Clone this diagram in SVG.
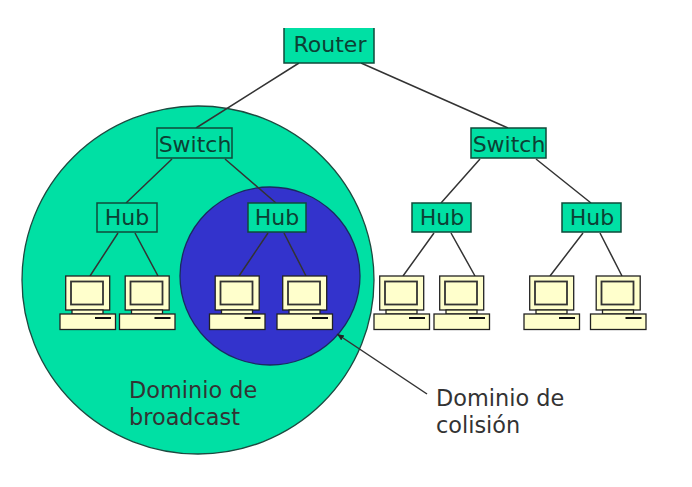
<svg xmlns="http://www.w3.org/2000/svg" width="692" height="487" viewBox="0 0 692 487">
<style>
.box{fill:#00e0a4;stroke:#0f4a3a;stroke-width:1.5}
.lbl{font-family:"DejaVu Sans",sans-serif;font-size:22px;fill:#0d4034;text-anchor:middle}
.txt{font-family:"DejaVu Sans",sans-serif;font-size:22.400px;fill:#333}
.ln{fill:none;stroke:#333;stroke-width:1.5}
.pc{fill:#ffffcc;stroke:#222;stroke-width:1.3}
.scr{fill:#ffffcc;stroke:#333;stroke-width:1.8}
</style>
<defs>
<marker id="ah" markerWidth="8" markerHeight="8" refX="7" refY="3" orient="auto" markerUnits="userSpaceOnUse"><path d="M0 0L7 3L0 6Z" fill="#222"/></marker>
<g id="pcg">
<rect class="pc" x="5.700" y="0" width="44" height="34"/>
<rect class="scr" x="11" y="5.500" width="32" height="23"/>
<rect class="pc" x="12" y="34" width="31" height="4"/>
<rect class="pc" x="0" y="38" width="55.500" height="15.500"/>
<rect x="35" y="41" width="16" height="2" fill="#111"/>
</g>
</defs>
<ellipse id="broadcast" cx="198" cy="280" rx="176" ry="174" fill="#00e0a4" stroke="#1d4a40" stroke-width="1.3"/>
<ellipse id="collision" cx="270" cy="276" rx="90" ry="89" fill="#3333cc" stroke="#1a2a60" stroke-width="1.3"/>
<g id="connectors">
<path class="ln" d="M299 63L196 128M361 63L508 128"/>
<path class="ln" d="M172 159L126 203M225 159L276 203M480 159L441 203M536 159L591 203"/>
<path class="ln" d="M118 233L90 276M135 233L158 276M268 233L239 276M284 233L306 276M434 233L403 276M451 233L475 276M583 233L550 276M600 233L622 276"/>
<path class="ln" d="M427 394L337 334" marker-end="url(#ah)"/>
</g>
<g id="router"><rect x="284" y="28" width="90" height="35" fill="#00e0a4"/><path class="ln" style="stroke:#0f4a3a" d="M284 28V63H374V28"/><text class="lbl" x="330" y="52">Router</text></g>
<g id="switch1"><rect class="box" x="157" y="128" width="75" height="30"/><text class="lbl" x="195" y="152">Switch</text></g>
<g id="switch2"><rect class="box" x="471" y="128" width="75" height="30"/><text class="lbl" x="509" y="152">Switch</text></g>
<g id="hub1"><rect class="box" x="97" y="203" width="60" height="29"/><text class="lbl" x="127" y="225">Hub</text></g>
<g id="hub2"><rect class="box" x="248" y="203" width="58" height="29"/><text class="lbl" x="277" y="225">Hub</text></g>
<g id="hub3"><rect class="box" x="412" y="203" width="59" height="29"/><text class="lbl" x="442" y="225">Hub</text></g>
<g id="hub4"><rect class="box" x="562" y="203" width="59" height="29"/><text class="lbl" x="592" y="225">Hub</text></g>
<use id="pc1" href="#pcg" x="60" y="276"/>
<use id="pc2" href="#pcg" x="119.500" y="276"/>
<use id="pc3" href="#pcg" x="209.500" y="276"/>
<use id="pc4" href="#pcg" x="277" y="276"/>
<use id="pc5" href="#pcg" x="374" y="276"/>
<use id="pc6" href="#pcg" x="434" y="276"/>
<use id="pc7" href="#pcg" x="524" y="276"/>
<use id="pc8" href="#pcg" x="590.500" y="276"/>
<g id="label-broadcast"><text class="txt" x="129" y="398">Dominio de</text><text class="txt" x="129" y="425">broadcast</text></g>
<g id="label-collision"><text class="txt" x="436" y="406">Dominio de</text><text class="txt" x="436" y="433">colisión</text></g>
</svg>
